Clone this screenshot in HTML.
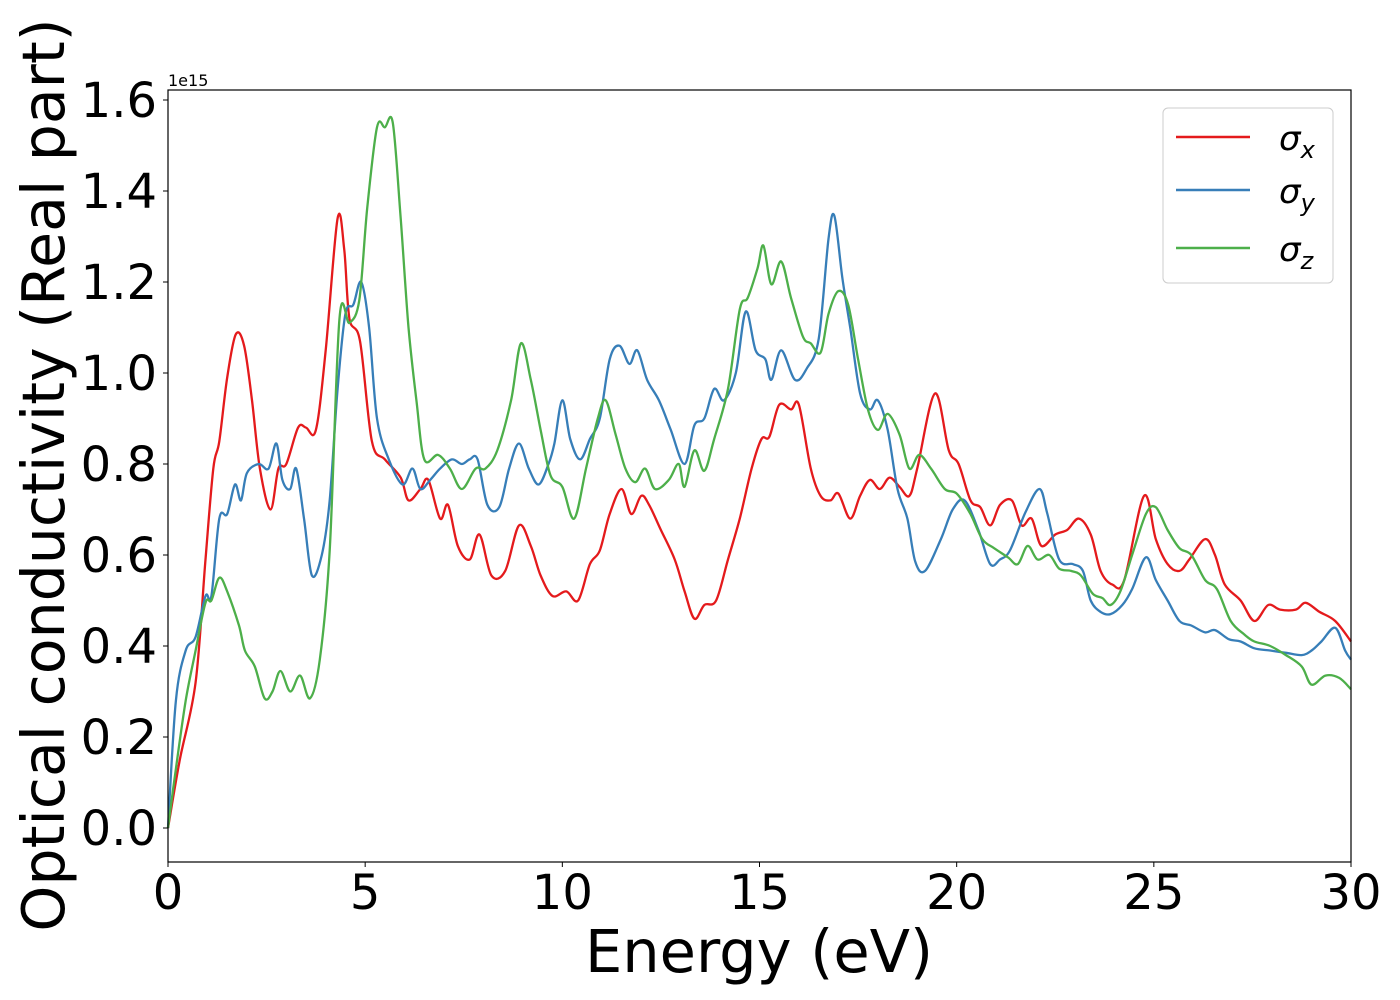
<!DOCTYPE html>
<html><head><meta charset="utf-8"><style>
html,body{margin:0;padding:0;background:#fff;}
svg{display:block;font-family:"DejaVu Sans","Liberation Sans",sans-serif;}
</style></head><body>
<svg id="chart" width="1400" height="1000" viewBox="0 0 1400 1000">
<g id="grid"></g>
<g id="series"></g>
<rect x="168" y="90" width="1183" height="772" fill="none" stroke="#000" stroke-width="1.2"/>
<g id="axes"></g>
<text x="168" y="86" font-size="16">1e15</text>
<text x="759" y="972" font-size="59" text-anchor="middle">Energy (eV)</text>
<text transform="translate(64,475) rotate(-90)" font-size="58.5" text-anchor="middle">Optical conductivity (Real part)</text>
<g>
<rect x="1163" y="108" width="170" height="175" rx="5" fill="#fff" fill-opacity="0.8" stroke="#ccc" stroke-width="1"/>
<line x1="1176" y1="137" x2="1250" y2="137" stroke="#e41a1c" stroke-width="2.5"/>
<line x1="1176" y1="190" x2="1250" y2="190" stroke="#377eb8" stroke-width="2.5"/>
<line x1="1176" y1="248" x2="1250" y2="248" stroke="#4daf4a" stroke-width="2.5"/>
<text x="1279" y="150" font-size="34" font-style="italic">σ<tspan font-size="24" dy="8">x</tspan></text>
<text x="1279" y="203" font-size="34" font-style="italic">σ<tspan font-size="24" dy="8">y</tspan></text>
<text x="1279" y="261" font-size="34" font-style="italic">σ<tspan font-size="24" dy="8">z</tspan></text>
</g>
</svg>
<script>
const xTicks=[0,5,10,15,20,25,30];
const yTicks=[0,0.2,0.4,0.6,0.8,1.0,1.2,1.4,1.6];
const yTickLabels=["0.0","0.2","0.4","0.6","0.8","1.0","1.2","1.4","1.6"];
const ex=[0,0.3,0.7,0.95,1.15,1.3,1.5,1.72,1.93,2.13,2.33,2.6,2.8,3.0,3.3,3.5,3.75,4.0,4.3,4.47,4.6,4.87,5.17,5.5,5.9,6.1,6.4,6.6,6.9,7.1,7.35,7.65,7.9,8.2,8.55,8.9,9.2,9.45,9.75,10.1,10.4,10.7,10.95,11.2,11.5,11.75,12.0,12.2,12.5,12.85,13.1,13.35,13.6,13.9,14.2,14.5,14.8,15.05,15.25,15.5,15.8,16.0,16.3,16.55,16.8,17.0,17.3,17.55,17.8,18.05,18.3,18.55,18.8,19.0,19.45,19.8,20.05,20.35,20.6,20.85,21.1,21.4,21.65,21.9,22.15,22.5,22.8,23.1,23.4,23.65,23.95,24.25,24.75,25.05,25.35,25.65,25.9,26.3,26.55,26.8,27.2,27.55,27.9,28.2,28.6,28.85,29.2,29.6,30];
const sx=[0.0,0.15,0.32,0.59,0.79,0.85,0.99,1.085,1.06,0.94,0.79,0.70,0.79,0.80,0.88,0.88,0.875,1.05,1.34,1.27,1.12,1.07,0.85,0.81,0.77,0.72,0.745,0.765,0.68,0.71,0.62,0.59,0.645,0.555,0.565,0.665,0.62,0.555,0.51,0.52,0.5,0.58,0.61,0.69,0.745,0.69,0.73,0.71,0.655,0.59,0.52,0.46,0.49,0.5,0.59,0.68,0.79,0.855,0.86,0.93,0.92,0.93,0.79,0.73,0.72,0.735,0.68,0.73,0.765,0.745,0.77,0.75,0.73,0.79,0.955,0.83,0.8,0.72,0.705,0.665,0.71,0.72,0.665,0.68,0.62,0.645,0.655,0.68,0.645,0.565,0.535,0.545,0.73,0.635,0.58,0.565,0.59,0.635,0.6,0.535,0.5,0.455,0.49,0.48,0.48,0.495,0.475,0.455,0.41];
const ey=[0,0.2,0.45,0.7,0.95,1.1,1.3,1.5,1.7,1.85,2.0,2.3,2.55,2.75,2.9,3.1,3.25,3.45,3.65,3.9,4.1,4.3,4.5,4.7,4.9,5.1,5.3,5.6,5.95,6.2,6.4,6.65,6.9,7.2,7.45,7.65,7.85,8.1,8.4,8.65,8.9,9.15,9.4,9.65,9.8,10.0,10.2,10.45,10.7,10.95,11.2,11.45,11.7,11.9,12.15,12.45,12.75,13.1,13.35,13.6,13.85,14.1,14.4,14.65,14.9,15.15,15.3,15.55,15.9,16.2,16.5,16.75,16.9,17.1,17.3,17.55,17.8,18.0,18.25,18.5,18.75,18.95,19.2,19.6,19.9,20.2,20.55,20.85,21.1,21.35,21.75,22.1,22.3,22.6,22.95,23.2,23.4,23.65,23.9,24.2,24.45,24.8,25.05,25.35,25.65,25.95,26.3,26.55,26.9,27.2,27.55,27.95,28.35,28.75,29.0,29.25,29.6,29.85,30];
const sy=[0.0,0.28,0.39,0.42,0.51,0.51,0.68,0.69,0.755,0.72,0.78,0.8,0.79,0.845,0.765,0.745,0.79,0.68,0.555,0.6,0.72,0.965,1.13,1.15,1.2,1.10,0.9,0.81,0.755,0.79,0.745,0.765,0.79,0.81,0.8,0.81,0.81,0.71,0.705,0.79,0.845,0.79,0.755,0.8,0.845,0.94,0.855,0.81,0.855,0.9,1.03,1.06,1.02,1.05,0.985,0.94,0.875,0.8,0.885,0.9,0.965,0.94,1.0,1.135,1.05,1.03,0.985,1.05,0.985,1.01,1.075,1.295,1.345,1.21,1.1,0.955,0.92,0.94,0.875,0.745,0.68,0.585,0.565,0.635,0.7,0.72,0.655,0.58,0.59,0.61,0.695,0.745,0.69,0.59,0.58,0.565,0.5,0.475,0.47,0.49,0.525,0.595,0.545,0.5,0.455,0.445,0.43,0.435,0.415,0.41,0.395,0.39,0.385,0.38,0.39,0.41,0.44,0.39,0.37];
const ez=[0,0.2,0.45,0.7,0.95,1.1,1.3,1.5,1.8,1.95,2.2,2.45,2.65,2.85,3.1,3.35,3.6,3.85,4.1,4.35,4.6,4.85,5.05,5.3,5.5,5.7,5.9,6.1,6.3,6.5,6.85,7.15,7.45,7.8,8.05,8.35,8.7,8.95,9.2,9.45,9.7,10.0,10.3,10.6,10.9,11.1,11.35,11.6,11.85,12.1,12.35,12.7,12.95,13.1,13.35,13.6,13.85,14.2,14.5,14.7,14.95,15.1,15.3,15.55,15.8,16.1,16.3,16.55,16.75,17.0,17.25,17.5,17.75,18.0,18.25,18.55,18.8,19.05,19.35,19.7,20.0,20.35,20.65,20.95,21.3,21.55,21.8,22.05,22.35,22.6,22.9,23.15,23.45,23.7,23.9,24.15,24.45,24.8,25.05,25.35,25.65,25.95,26.3,26.6,26.95,27.3,27.55,27.95,28.35,28.75,29.0,29.35,29.7,30];
const sz=[0.0,0.13,0.28,0.39,0.495,0.5,0.55,0.52,0.445,0.39,0.355,0.285,0.30,0.345,0.30,0.335,0.285,0.37,0.61,1.12,1.11,1.16,1.36,1.54,1.54,1.55,1.34,1.10,0.94,0.81,0.82,0.79,0.745,0.79,0.79,0.83,0.94,1.065,0.985,0.875,0.775,0.75,0.68,0.79,0.9,0.94,0.865,0.79,0.76,0.79,0.745,0.765,0.8,0.75,0.83,0.785,0.855,0.965,1.14,1.165,1.23,1.28,1.195,1.245,1.165,1.08,1.065,1.045,1.13,1.18,1.15,1.03,0.92,0.875,0.91,0.865,0.79,0.82,0.79,0.745,0.735,0.69,0.635,0.615,0.595,0.58,0.62,0.59,0.6,0.57,0.565,0.555,0.515,0.505,0.49,0.52,0.6,0.69,0.705,0.655,0.615,0.6,0.545,0.525,0.455,0.425,0.41,0.4,0.38,0.355,0.315,0.335,0.33,0.305];

const X0=168,X1=1351,XMIN=0,XMAX=30;
const Y0V=828,YSCALE=455;
function xs(v){return X0+(v-XMIN)/(XMAX-XMIN)*(X1-X0);}
function ys(v){return Y0V-v*YSCALE;}
const NS='http://www.w3.org/2000/svg';
const axes=document.getElementById('axes');
xTicks.forEach(t=>{
  const l=document.createElementNS(NS,'line');
  l.setAttribute('x1',xs(t));l.setAttribute('x2',xs(t));l.setAttribute('y1',862);l.setAttribute('y2',867);
  l.setAttribute('stroke','#000');
  
  
  axes.appendChild(l);
  const tx=document.createElementNS(NS,'text');
  tx.setAttribute('x',xs(t));tx.setAttribute('y',909);tx.setAttribute('font-size','48');tx.setAttribute('text-anchor','middle');
  tx.textContent=String(t);
  
  
  axes.appendChild(tx);
});
yTicks.forEach((t,i)=>{
  const l=document.createElementNS(NS,'line');
  l.setAttribute('x1',163);l.setAttribute('x2',168);l.setAttribute('y1',ys(t));l.setAttribute('y2',ys(t));
  l.setAttribute('stroke','#000');
  
  
  axes.appendChild(l);
  const tx=document.createElementNS(NS,'text');
  tx.setAttribute('x',157);tx.setAttribute('y',ys(t)+17);tx.setAttribute('font-size','48');tx.setAttribute('text-anchor','end');
  tx.textContent=yTickLabels[i];
  
  
  axes.appendChild(tx);
});
function pathFor(E,V){
  const p=E.map((e,i)=>[xs(e),ys(V[i])]);
  let d='M'+p[0][0].toFixed(1)+','+p[0][1].toFixed(1);
  for(let i=0;i<p.length-1;i++){
    const a=p[Math.max(0,i-1)],b=p[i],c=p[i+1],e=p[Math.min(p.length-1,i+2)];
    const k=1/6;
    const c1=[b[0]+(c[0]-a[0])*k,b[1]+(c[1]-a[1])*k];
    const c2=[c[0]-(e[0]-b[0])*k,c[1]-(e[1]-b[1])*k];
    d+='C'+c1[0].toFixed(1)+','+c1[1].toFixed(1)+' '+c2[0].toFixed(1)+','+c2[1].toFixed(1)+' '+c[0].toFixed(1)+','+c[1].toFixed(1);
  }
  return d;
}
const sg=document.getElementById('series');
[[ex,sx,'#e41a1c','series-sigma-x'],[ey,sy,'#377eb8','series-sigma-y'],[ez,sz,'#4daf4a','series-sigma-z']].forEach(s=>{
  const p=document.createElementNS(NS,'path');
  p.setAttribute('d',pathFor(s[0],s[1]));
  p.setAttribute('fill','none');p.setAttribute('stroke',s[2]);p.setAttribute('stroke-width','2.3');
  p.setAttribute('stroke-linejoin','round');
  
  
  sg.appendChild(p);
});
</script>
</body></html>
